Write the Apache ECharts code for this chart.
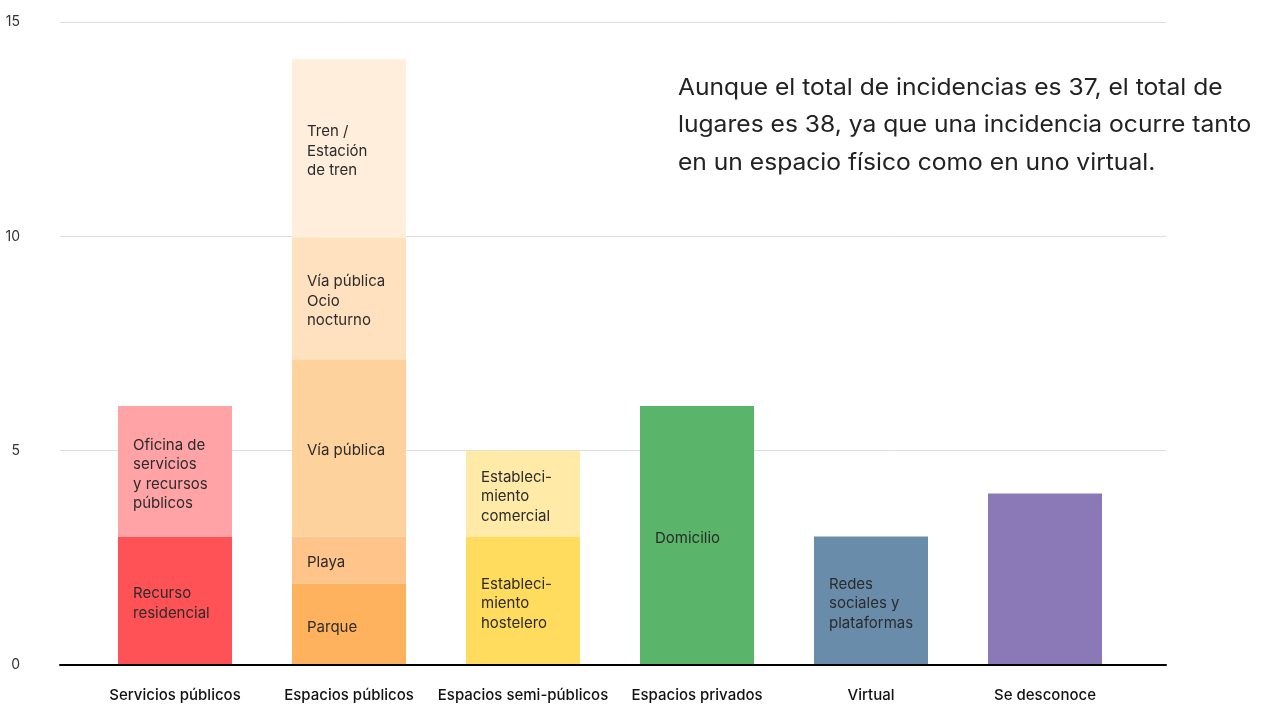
<!DOCTYPE html>
<html>
<head>
<meta charset="utf-8">
<script src="https://cdn.jsdelivr.net/npm/echarts@6/dist/echarts.min.js"></script>
<style>
  html, body { margin: 0; padding: 0; background: #fff; }
  #chart { width: 1276px; height: 705px; }
</style>
</head>
<body>
<div id="chart"></div>
<script>
const categories = ['Servicios públicos', 'Espacios públicos', 'Espacios semi-públicos', 'Espacios privados', 'Virtual', 'Se desconoce'];

// one entry per stacked piece
const segmentNames = [
  'Recurso\nresidencial',
  'Oficina de\nservicios\ny recursos\npúblicos',
  'Parque',
  'Playa',
  'Vía pública',
  'Vía pública\nOcio\nnocturno',
  'Tren /\nEstación\nde tren',
  'Estableci-\nmiento\nhostelero',
  'Estableci-\nmiento\ncomercial',
  'Domicilio',
  'Redes\nsociales y\nplataformas',
  ''
];
const segmentCategory = [0, 0, 1, 1, 1, 1, 1, 2, 2, 3, 4, 5];
const segmentValues = [3, 3.04, 1.9, 1.1, 4.13, 2.85, 4.15, 3, 2, 6.04, 3, 4];
const segmentColors = ['#ff5257', '#ffa3a6', '#ffb25e', '#ffc489', '#fed29c', '#ffe0bf', '#ffeedc',
  '#ffdb5e', '#ffeaa8', '#5ab56a', '#688caa', '#8b78b6'];

const yTicks = { min: 0, max: 15, interval: 5 };
const annotation = 'Aunque el total de incidencias es 37, el total de\nlugares es 38, ya que una incidencia ocurre tanto\nen un espacio físico como en uno virtual.';

const FONT = 'Inter, "Open Sans", sans-serif';

const chart = echarts.init(document.getElementById('chart'));

const series = segmentNames.map((name, k) => ({
  name: name,
  type: 'bar',
  xAxisIndex: 1,
  yAxisIndex: 1,
  stack: 'total',
  barWidth: 114,
  itemStyle: { color: segmentColors[k] },
  label: {
    show: name !== '',
    position: 'insideLeft',
    distance: 15,
    offset: [0, 3],
    formatter: () => name,
    color: '#2b2b2b',
    fontSize: 15,
    lineHeight: 19.5,
    fontFamily: FONT
  },
  emphasis: { disabled: true },
  data: categories.map((c, i) => (i === segmentCategory[k] ? segmentValues[k] : '-'))
}));

const option = {
  animation: false,
  textStyle: { fontFamily: FONT },
  grid: [
    { left: 60, right: 110, top: 22, bottom: 40 },
    { left: 88, right: 144, top: 22, bottom: 40 }
  ],
  xAxis: [
    {
      gridIndex: 0,
      type: 'value',
      min: 0,
      max: 1,
      z: 10,
      axisLine: { show: true, lineStyle: { color: '#000', width: 2 } },
      axisTick: { show: false },
      axisLabel: { show: false },
      splitLine: { show: false }
    },
    {
      gridIndex: 1,
      type: 'category',
      data: categories,
      axisLine: { show: false },
      axisTick: { show: false },
      axisLabel: { interval: 0, margin: 23, fontSize: 15, fontWeight: 500, color: '#111', fontFamily: FONT }
    }
  ],
  yAxis: [
    {
      gridIndex: 0,
      type: 'value',
      min: yTicks.min,
      max: yTicks.max,
      interval: yTicks.interval,
      axisLine: { show: false },
      axisTick: { show: false },
      axisLabel: { margin: 40, fontSize: 14, color: '#333', fontFamily: FONT },
      splitLine: { lineStyle: { color: '#dddddd', width: 1 } }
    },
    {
      gridIndex: 1,
      type: 'value',
      min: yTicks.min,
      max: yTicks.max,
      show: false
    }
  ],
  graphic: [
    {
      type: 'text',
      x: 678,
      y: 69,
      scaleX: 1.07,
      style: {
        text: annotation,
        font: '23px ' + FONT,
        fill: '#222',
        lineHeight: 37.5
      }
    }
  ],
  series: series
};

chart.setOption(option);
</script>
</body>
</html>
